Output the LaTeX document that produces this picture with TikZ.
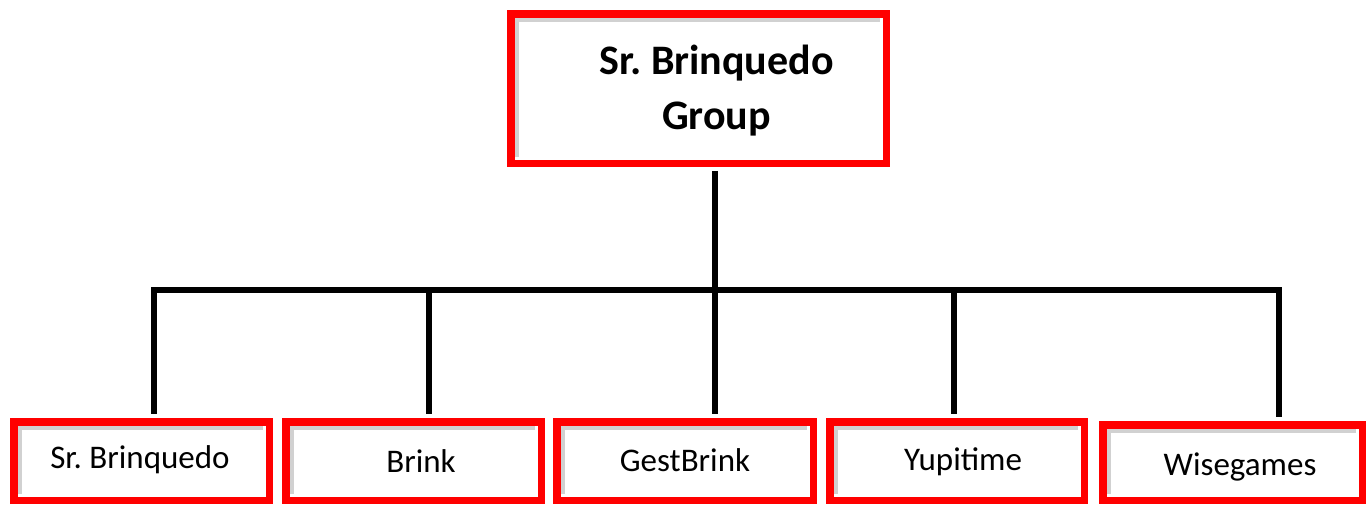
\documentclass[tikz,border=0pt]{standalone}
\usepackage{fontspec}
\setmainfont{Carlito}
\frenchspacing
\tikzset{
  orgbox/.style={draw=red, line width=7.5pt, fill=white, inner sep=0pt, rectangle,
    path picture={\draw[black!18, line width=4pt]
      ([xshift=6pt,yshift=6pt]path picture bounding box.south west) --
      ([xshift=6pt,yshift=-6pt]path picture bounding box.north west) --
      ([xshift=-6pt,yshift=-6pt]path picture bounding box.north east);}},
  subbox/.style={orgbox, minimum width=255.5pt, minimum height=78.5pt},
  conn/.style={line width=5.5pt, black},
  sublbl/.style={font=\fontsize{33}{39}\selectfont, text height=21.5pt, text depth=6pt, inner sep=0pt},
  toplbl/.style={font=\fontsize{42}{55}\selectfont\bfseries, align=center, inner sep=0pt}
}
\begin{document}
\begin{tikzpicture}[x=1pt, y=-1pt]
\useasboundingbox[fill=white] (0,0) rectangle (1370,504);

\node[orgbox, minimum width=375.5pt, minimum height=149.5pt,
  label={[toplbl, xshift=18pt, yshift=-2pt]center:{Sr. Brinquedo\\Group}}] (top) at (698.5,88.5) {};

\node[subbox, label={[sublbl, xshift=-1.5pt, yshift=0.5pt]center:Sr. Brinquedo}] (b1) at (141.5,461) {};
\node[subbox, label={[sublbl, xshift=7.5pt, yshift=-3.5pt]center:Brink}] (b2) at (413.5,461) {};
\node[subbox, minimum width=256.5pt, label={[sublbl, xshift=0pt, yshift=-2.5pt]center:GestBrink}] (b3) at (685,461) {};
\node[subbox, minimum width=254.5pt, label={[sublbl, xshift=6pt, yshift=-1.5pt]center:Yupitime}] (b4) at (957,461) {};
\node[subbox, minimum width=259.5pt, minimum height=75.5pt, label={[sublbl, xshift=7.5pt, yshift=-5pt]center:Wisegames}] (b5) at (1232.5,462.5) {};

\coordinate (bus1) at (154,290);
\coordinate (bus2) at (429,290);
\coordinate (bus3) at (715,290);
\coordinate (bus4) at (954,290);
\coordinate (bus5) at (1279,290);
\coordinate (topbot) at ([yshift=-3.75pt]top.south);

\draw[conn] (topbot -| bus3) -- (bus3);
\draw[conn, line cap=rect] (bus1) -- (bus5);
\foreach \i in {1,...,5}{
  \coordinate (end\i) at ([yshift=3.75pt]b\i.north);
  \draw[conn] (bus\i) -- (end\i -| bus\i);
}
\end{tikzpicture}
\end{document}
